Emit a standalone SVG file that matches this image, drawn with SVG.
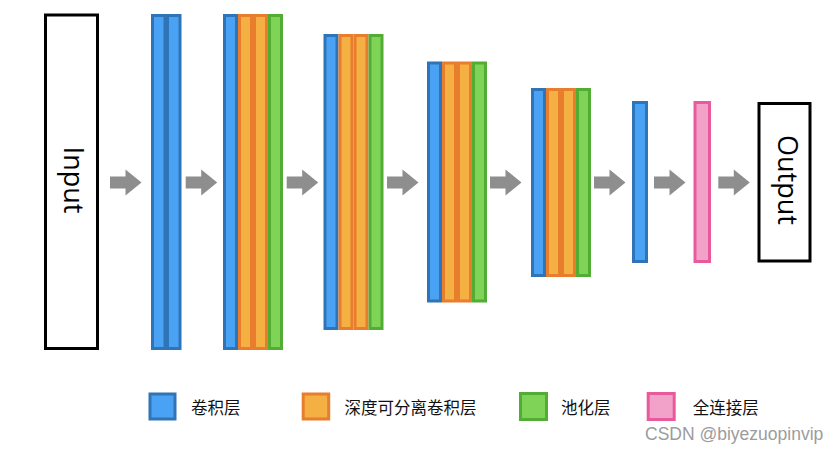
<svg xmlns="http://www.w3.org/2000/svg" width="839" height="452" viewBox="0 0 839 452">
<style>
.box{fill:#fff;stroke:#000;stroke-width:3}
.b{fill:#4aa2f5;stroke:#2f74b6;stroke-width:3}
.o{fill:#f4b043;stroke:#e77d2d;stroke-width:3}
.g{fill:#7fd457;stroke:#52ad35;stroke-width:3}
.p{fill:#f2a1c9;stroke:#e85a9c;stroke-width:3}
.arr{fill:#8e8e8e}
.big{font-family:"Open Sans","Noto Sans",sans-serif;font-size:27px;fill:#000;text-anchor:middle}
.lg{font-family:"Noto Sans CJK SC","Noto Sans",sans-serif;font-size:16.5px;fill:#111}
.wm{font-family:"Liberation Sans",Arial,sans-serif;font-size:17.5px;fill:#9c9c9c}
</style>
<rect width="839" height="452" fill="#fff"/>
<g id="connectors">
<path class="arr" d="M110,176.5h15.5v-7l16,13l-16,13v-7h-15.5z"/>
<path class="arr" d="M185.7,176.5h15.5v-7l16,13l-16,13v-7h-15.5z"/>
<path class="arr" d="M286.7,176.5h15.5v-7l16,13l-16,13v-7h-15.5z"/>
<path class="arr" d="M387,176.5h15.5v-7l16,13l-16,13v-7h-15.5z"/>
<path class="arr" d="M490,176.5h15.5v-7l16,13l-16,13v-7h-15.5z"/>
<path class="arr" d="M594,176.5h15.5v-7l16,13l-16,13v-7h-15.5z"/>
<path class="arr" d="M654,176.5h15.5v-7l16,13l-16,13v-7h-15.5z"/>
<path class="arr" d="M718.3,176.5h15.5v-7l16,13l-16,13v-7h-15.5z"/>
</g>
<g id="input">
<rect class="box" x="45.5" y="15" width="52" height="333.5"/>
<text class="big" transform="translate(63.5,180) rotate(90)">Input</text>
</g>
<g id="block1">
<rect class="b" x="152.5" y="15.5" width="12.5" height="333"/>
<rect class="b" x="167.5" y="15.5" width="12.5" height="333"/>
</g>
<g id="block2">
<rect class="b" x="224.5" y="15.5" width="12" height="333"/>
<rect class="o" x="239.5" y="15.5" width="12" height="333"/>
<rect class="o" x="254.5" y="15.5" width="12" height="333"/>
<rect class="g" x="269.5" y="15.5" width="12" height="333"/>
</g>
<g id="block3">
<rect class="b" x="325" y="35.5" width="12" height="293"/>
<rect class="o" x="340" y="35.5" width="12" height="293"/>
<rect class="o" x="355" y="35.5" width="12" height="293"/>
<rect class="g" x="370" y="35.5" width="12" height="293"/>
</g>
<g id="block4">
<rect class="b" x="428.5" y="63" width="12" height="238"/>
<rect class="o" x="443.5" y="63" width="12" height="238"/>
<rect class="o" x="458.5" y="63" width="12" height="238"/>
<rect class="g" x="473.5" y="63" width="12" height="238"/>
</g>
<g id="block5">
<rect class="b" x="532.5" y="89.5" width="12" height="186"/>
<rect class="o" x="547.5" y="89.5" width="12" height="186"/>
<rect class="o" x="562.5" y="89.5" width="12" height="186"/>
<rect class="g" x="577.5" y="89.5" width="12" height="186"/>
</g>
<g id="conv-final">
<rect class="b" x="633.5" y="102.5" width="13" height="159"/>
</g>
<g id="fc">
<rect class="p" x="695" y="102.5" width="14.5" height="159"/>
</g>
<g id="output">
<rect class="box" x="759" y="103.5" width="51" height="157.5"/>
<text class="big" transform="translate(777.5,180) rotate(90)">Output</text>
</g>
<g id="legend">
<rect class="b" x="150" y="394" width="25" height="25"/>
<text class="lg" x="191" y="414">卷积层</text>
<rect class="o" x="303.2" y="394" width="25.5" height="25"/>
<text class="lg" x="344.5" y="414">深度可分离卷积层</text>
<rect class="g" x="520.5" y="393.5" width="26" height="26"/>
<text class="lg" x="561" y="414">池化层</text>
<rect class="p" x="648.2" y="393.5" width="26" height="26"/>
<text class="lg" x="692.8" y="414">全连接层</text>
</g>
<text class="wm" x="645" y="440">CSDN @biyezuopinvip</text>
</svg>
